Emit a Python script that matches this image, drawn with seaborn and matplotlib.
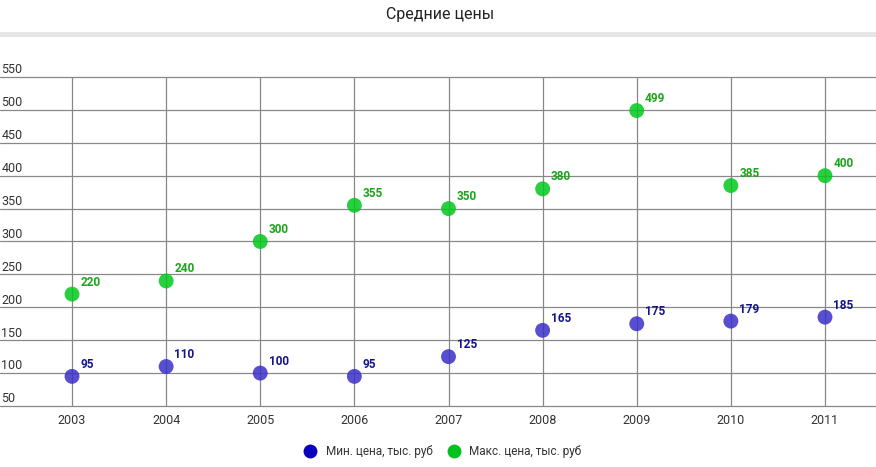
import matplotlib
matplotlib.use("Agg")
import matplotlib.pyplot as plt
import seaborn as sns
import pandas as pd
from matplotlib.patches import Rectangle
from matplotlib.lines import Line2D

years = [2003, 2004, 2005, 2006, 2007, 2008, 2009, 2010, 2011]
min_price = [95, 110, 100, 95, 125, 165, 175, 179, 185]
max_price = [220, 240, 300, 355, 350, 380, 499, 385, 400]
series_names = ["Мин. цена, тыс. руб", "Макс. цена, тыс. руб"]
y_ticks = [50, 100, 150, 200, 250, 300, 350, 400, 450, 500, 550]
title = "Средние цены"

df = pd.DataFrame({
    "year": years * 2,
    "value": min_price + max_price,
    "series": [series_names[0]] * len(years) + [series_names[1]] * len(years),
})

sns.set_style("white")
plt.rcParams['font.family'] = ['Roboto', 'DejaVu Sans']

W, H = 876, 467
fig = plt.figure(figsize=(W / 100, H / 100), dpi=100)
ax = fig.add_axes([0, 1 - 406 / H, 1, (406 - 77) / H])

point_colors = {series_names[0]: "#3a2fc8", series_names[1]: "#00c81c"}
label_colors = {series_names[0]: "#14148a", series_names[1]: "#1aa51a"}

ax.set_xlim(2003 - 72 / 94.1, 2011 + 51 / 94.1)
ax.set_ylim(50, 550)

for t in y_ticks:
    ax.axhline(t, color="#888888", lw=0.9, zorder=0, clip_on=False)
for yr in years:
    ax.axvline(yr, color="#888888", lw=0.9, zorder=0)

sns.scatterplot(data=df, x="year", y="value", hue="series", palette=point_colors,
                s=115, alpha=0.85, edgecolor="none", legend=False, ax=ax, zorder=3)

for _, r in df.iterrows():
    ax.annotate(str(r["value"]), (r["year"], r["value"]), xytext=(6, 4),
                textcoords="offset points", fontsize=8.5, fontweight="bold",
                color=label_colors[r["series"]], ha="left", va="bottom",
                family=["Roboto", "DejaVu Sans"])

ax.set_xticks(years)
ax.set_xticklabels([str(y) for y in years], fontsize=9, color="#333333")
ax.tick_params(axis="x", length=0, pad=6)
ax.set_yticks([])
ax.set_xlabel("")
ax.set_ylabel("")
for s in ax.spines.values():
    s.set_visible(False)

for t in y_ticks:
    ax.annotate(str(t), (0, t), xycoords=("axes fraction", "data"), xytext=(1, 0.5),
                textcoords="offset points", fontsize=9, color="#333333",
                ha="left", va="bottom")

fig.text(440 / W, 1 - 14 / H, title, ha="center", va="center", fontsize=11.5, color="#222222")
fig.patches.append(Rectangle((0, 1 - 37 / H), 1, 5 / H, transform=fig.transFigure,
                             facecolor="#e6e6e6", edgecolor="none"))

handles = [Line2D([], [], marker="o", ls="", markersize=10, markerfacecolor=c,
                  markeredgecolor="none")
           for c in ["#0a00c0", "#00c21f"]]
fig.legend(handles, series_names, loc="center", bbox_to_anchor=(440 / W, 1 - 452 / H),
           ncol=2, frameon=False, fontsize=8.5, handletextpad=0.3, columnspacing=0.8,
           labelcolor="#333333")

fig.savefig("out.png", dpi=100)
